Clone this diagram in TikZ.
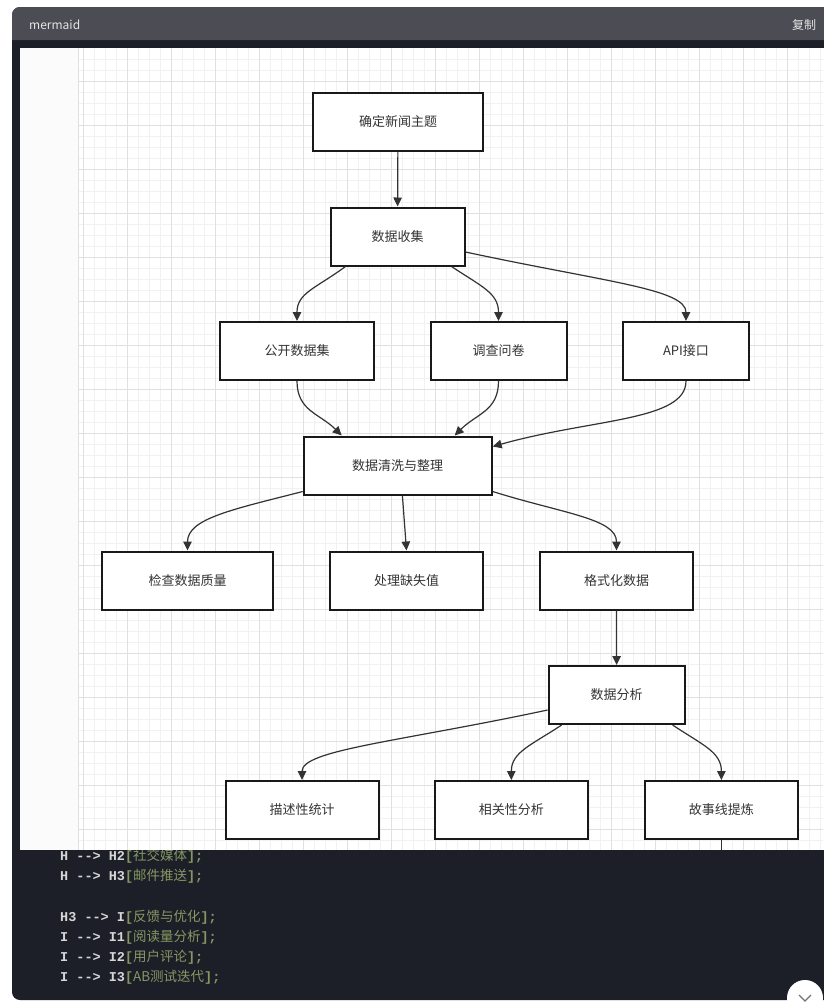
\documentclass[tikz,border=0pt]{standalone}
\usepackage{fontspec}
\setmainfont{Noto Sans CJK SC}
\setmonofont{Liberation Mono}
\newfontfamily\cjk{Noto Sans CJK SC}
\usetikzlibrary{arrows.meta}

\definecolor{cardbg}{RGB}{28,30,40}
\definecolor{headbg}{RGB}{76,76,84}
\definecolor{gridmajor}{RGB}{224,224,224}
\definecolor{gridminor}{RGB}{241,241,241}
\definecolor{boxtext}{RGB}{51,51,51}
\definecolor{codeplain}{RGB}{214,214,214}
\definecolor{codestr}{RGB}{134,152,98}

\tikzset{
  flowbox/.style={draw=black!90, line width=2pt, fill=white, minimum height=58pt,
    inner sep=0pt, text=boxtext, font=\cjk\fontsize{13}{15}\selectfont},
  flow/.style={draw=black!80, line width=1.2pt, -{Triangle[length=9pt,width=8.5pt]}},
  codeline/.style={anchor=base west, inner sep=0pt, text=codeplain,
    font=\ttfamily\bfseries\fontsize{13.5}{16}\selectfont},
  headtext/.style={inner sep=0pt, text=black!10, font=\cjk\fontsize{12}{14}\selectfont}
}
\newcommand{\codeln}[2]{#1\textcolor{codestr}{[{\cjk\mdseries #2}];}}

\begin{document}
\begin{tikzpicture}[x=1pt,y=-1pt]
\useasboundingbox (0,0) rectangle (823,1002);
\fill[white] (0,0) rectangle (823,1002);
% card and header
\fill[cardbg, rounded corners=8pt] (12,7) rectangle (850,1000);
\fill[headbg, rounded corners=8pt] (12,40) -- (12,7) -- (850,7) [sharp corners] -- (850,40) -- cycle;
\node[headtext, anchor=west] (title) at (29,25) {mermaid};
\node[headtext, anchor=west] (copy) at (792,25) {复制};

% code below the diagram
\node[codeline] (c1) at (60,860) {\codeln{H --> H2}{社交媒体}};
\node[codeline] (c2) at (60,880) {\codeln{H --> H3}{邮件推送}};
\node[codeline] (c3) at (60,921) {\codeln{H3 --> I}{反馈与优化}};
\node[codeline] (c4) at (60,941) {\codeln{I --> I1}{阅读量分析}};
\node[codeline] (c5) at (60,961) {\codeln{I --> I2}{用户评论}};
\node[codeline] (c6) at (60,981) {\codeln{I --> I3}{AB测试迭代}};
\fill[white] (805,998) circle (18);
\draw[black!55, line width=1.2pt] (799,995) -- (805,1001) -- (811,995);

% canvas with grid
\fill[white] (20,48) rectangle (850,850);
\fill[black!1.5] (20,48) rectangle (78,850);
\foreach \gx in {83,94,...,823} \draw[gridminor, line width=0.6pt] (\gx,48) -- (\gx,850);
\foreach \gy in {59,70,...,849} \draw[gridminor, line width=0.6pt] (78,\gy) -- (823,\gy);
\foreach \gx in {83,127,...,823} \draw[gridmajor, line width=0.8pt] (\gx,48) -- (\gx,850);
\foreach \gy in {81,125,...,849} \draw[gridmajor, line width=0.8pt] (78,\gy) -- (823,\gy);
\draw[gridmajor, line width=0.8pt] (78,48) -- (78,850);

% nodes
\node[flowbox, minimum width=170pt] (topic) at (398,122) {确定新闻主题};
\node[flowbox, minimum width=134pt] (collect) at (397.5,236.5) {数据收集};
\node[flowbox, minimum width=154pt] (open) at (297,351) {公开数据集};
\node[flowbox, minimum width=136pt] (survey) at (498.5,351) {调查问卷};
\node[flowbox, minimum width=126pt] (api) at (686,351) {API接口};
\node[flowbox, minimum width=188pt] (clean) at (397.7,465.5) {数据清洗与整理};
\node[flowbox, minimum width=171pt] (quality) at (187.5,580.5) {检查数据质量};
\node[flowbox, minimum width=153pt] (missing) at (406.5,580.5) {处理缺失值};
\node[flowbox, minimum width=153pt] (format) at (616.5,580.5) {格式化数据};
\node[flowbox, minimum width=136pt] (analyze) at (616.6,695) {数据分析};
\node[flowbox, minimum width=153pt] (describe) at (302,810) {描述性统计};
\node[flowbox, minimum width=153pt] (correl) at (511.3,810) {相关性分析};
\node[flowbox, minimum width=153pt] (story) at (721.4,810) {故事线提炼};
\coordinate (storyout) at (721.4,850);

% connectors
\draw[flow] (topic) -- (collect);
\draw[flow] ([xshift=-52pt]collect.south) .. controls +(-30,22) and +(0,-28) .. (open.north);
\draw[flow] ([xshift=54pt]collect.south) .. controls +(30,20) and +(0,-28) .. (survey.north);
\draw[flow] ([yshift=-15.5pt]collect.east) .. controls +(140,30) and +(0,-32) .. (api.north);
\draw[flow] (open.south) .. controls +(0,30) and +(-22,-22) .. ([xshift=-56pt]clean.north);
\draw[flow] (survey.south) .. controls +(0,30) and +(22,-22) .. ([xshift=57pt]clean.north);
\draw[flow] (api.south) .. controls +(0,40) and +(100,-28) .. ([yshift=19pt]clean.east);
\draw[flow] ([yshift=4pt]clean.south west) .. controls +(-70,18) and +(0,-32) .. (quality.north);
\draw[flow] ([xshift=4.7pt]clean.south) -- (missing.north);
\draw[flow] ([yshift=4pt]clean.south east) .. controls +(70,22) and +(0,-32) .. (format.north);
\draw[flow] (format.south) -- (analyze.north);
\draw[flow] ([yshift=-15pt]analyze.west) .. controls +(-150,32) and +(0,-30) .. (describe.north);
\draw[flow] ([xshift=-55pt]analyze.south) .. controls +(-30,20) and +(0,-28) .. (correl.north);
\draw[flow] ([xshift=56pt]analyze.south) .. controls +(30,20) and +(0,-28) .. (story.north);
\draw[draw=black!80, line width=1.2pt] (story.south) -- (storyout);
\end{tikzpicture}
\end{document}
